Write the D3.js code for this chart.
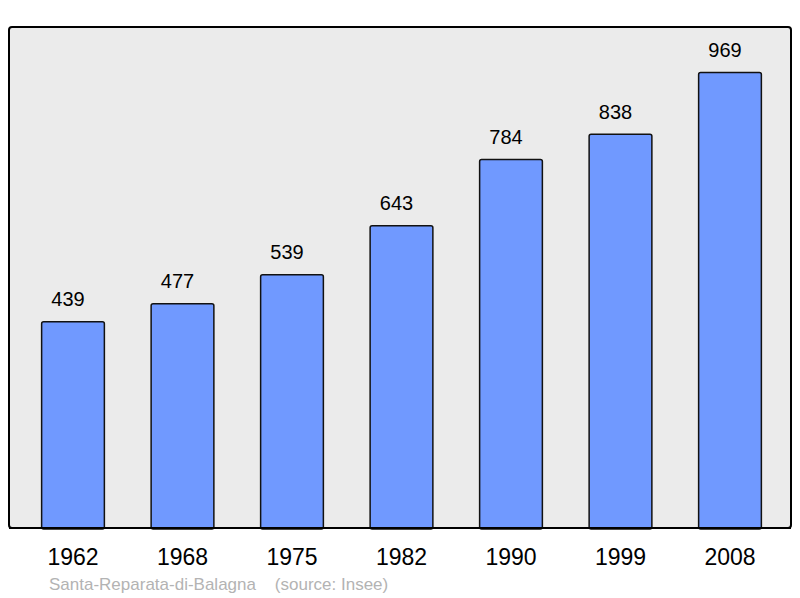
<!DOCTYPE html>
<html><head><meta charset="utf-8">
<script src="https://cdn.jsdelivr.net/npm/d3@7"></script>
<style>html,body{margin:0;padding:0;background:#fff}</style>
</head><body>
<script>
const years = ["1962","1968","1975","1982","1990","1999","2008"];
const population = [439,477,539,643,784,838,969];
const footerText = "Santa-Reparata-di-Balagna    (source: Insee)";

const W = 800, H = 598;
const svg = d3.select("body").append("svg").attr("width", W).attr("height", H)
  .style("font-family", "'Liberation Sans', Arial, sans-serif");

const plot = {left: 9, top: 27, right: 791, bottom: 528};
svg.append("rect").attr("x", plot.left).attr("y", plot.top)
  .attr("width", plot.right - plot.left).attr("height", plot.bottom - plot.top)
  .attr("rx", 3).attr("fill", "#ebebeb").attr("stroke", "#000").attr("stroke-width", 2);

const x = d3.scaleBand().domain(years).range([18.25, 784.75])
  .paddingInner(0.427).paddingOuter(0.2135);
const y = d3.scaleLinear().domain([0, 1066]).range([plot.bottom, plot.top]);

const data = years.map((yr, i) => ({year: yr, value: population[i]}));

svg.selectAll("rect.bar").data(data).enter().append("rect").attr("class", "bar")
  .attr("x", d => x(d.year)).attr("y", d => y(d.value))
  .attr("width", x.bandwidth()).attr("height", d => y(0) - y(d.value) + 1)
  .attr("rx", 2).attr("fill", "#7099ff").attr("stroke", "#111").attr("stroke-width", 1.5);

svg.append("line").attr("x1", plot.left).attr("x2", plot.right)
  .attr("y1", plot.bottom).attr("y2", plot.bottom).attr("stroke", "#000").attr("stroke-width", 2);

svg.selectAll("text.val").data(data).enter().append("text").attr("class", "val")
  .attr("x", d => x(d.year) + x.bandwidth() / 2 - 5).attr("y", d => y(d.value) - 15.5)
  .attr("text-anchor", "middle").attr("font-size", 20).attr("fill", "#000")
  .text(d => d.value);

const xAxis = d3.axisBottom(x).tickSize(0).tickPadding(0);
const ax = svg.append("g").attr("transform", `translate(0,${plot.bottom})`).call(xAxis);
ax.select(".domain").remove();
ax.selectAll("text").attr("dy", null).attr("y", 37)
  .attr("font-size", 23).attr("fill", "#000")
  .style("font-family", "'Liberation Sans', Arial, sans-serif");

svg.append("text").attr("x", 49).attr("y", 590).attr("font-size", 17)
  .attr("fill", "#b3b3b3").attr("xml:space", "preserve").style("white-space", "pre")
  .text(footerText);
</script>
</body></html>
